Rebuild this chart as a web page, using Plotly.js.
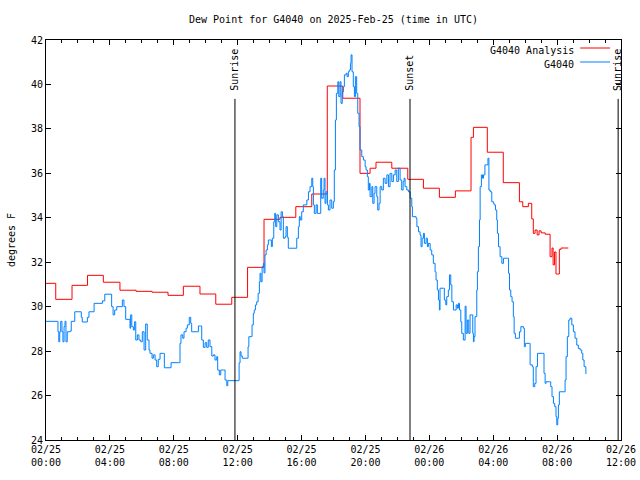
<!DOCTYPE html>
<html>
<head>
<meta charset="utf-8">
<script src="https://cdn.plot.ly/plotly-3.0.1.min.js"></script>
<style>html,body{margin:0;padding:0;background:#fff;}#chart{width:640px;height:480px;}</style>
</head>
<body>
<div id="chart"></div>
<script>
// Hours after 2025-02-25 00:00 UTC
const analysisHours = [0,0.61,1.63,2.60,3.59,4.63,5.64,6.64,7.64,8.60,9.64,10.63,11.63,12.62,13.65,14.65,15.64,16.64,17.61,18.58,19.66,20.29,20.66,21.65,22.65,23.63,24.63,25.63,26.61,26.76,27.63,28.63,29.64,29.85,30.20,30.41,30.51,30.62,30.75,30.87,31.0,31.25,31.56,31.68,31.75,31.84,31.93,32.03,32.14,32.25,32.70];
const analysisValues = [31.05,30.33,30.96,31.41,31.10,30.74,30.69,30.65,30.51,30.92,30.57,30.11,30.42,31.77,33.93,34.02,34.50,35.07,39.93,39.38,36.00,36.23,36.50,36.23,35.73,35.33,34.92,35.21,37.62,38.07,36.95,35.58,34.72,34.50,34.65,33.95,33.30,33.45,33.23,33.41,33.32,33.26,32.25,32.64,31.88,32.46,31.47,31.47,32.58,32.64,32.64];

const obsHours = [
0,0.71,0.75,0.80,0.86,0.92,1.00,1.06,1.13,1.19,1.25,1.33,1.50,1.58,1.80,2.21,2.27,2.59,2.69,3.01,
3.53,3.68,4.11,4.20,4.30,4.43,4.78,4.88,4.99,5.26,5.30,5.37,5.47,5.55,5.62,5.72,5.82,5.93,6.03,6.14,
6.24,6.34,6.45,6.51,6.64,6.72,6.83,6.93,7.03,7.14,7.35,7.41,7.77,7.83,8.28,8.39,8.45,8.56,8.64,8.77,
8.85,8.97,9.06,9.12,9.44,9.54,9.69,9.75,9.85,9.96,10.06,10.16,10.27,10.38,10.48,10.58,10.69,10.75,10.85,10.94,
11.10,11.21,11.32,11.38,12.04,12.09,12.15,12.21,12.29,12.61,12.65,12.70,12.86,12.90,12.98,13.04,13.11,13.19,13.28,13.36,
13.40,13.46,13.53,13.61,13.65,13.71,13.78,13.86,13.92,14.03,14.11,14.17,14.26,14.32,14.38,14.45,14.55,14.65,14.72,14.80,
14.86,14.97,15.03,15.11,15.17,15.59,15.70,15.80,15.86,15.92,16.01,16.11,16.33,16.43,16.53,16.64,16.70,16.74,16.80,16.91,
16.99,17.16,17.20,17.26,17.36,17.41,17.47,17.53,17.62,17.68,17.78,17.89,17.99,18.05,18.12,18.18,18.27,18.33,18.41,18.47,
18.55,18.62,18.68,18.79,18.85,18.93,18.99,19.06,19.10,19.16,19.24,19.31,19.37,19.45,19.52,19.60,19.66,19.77,19.87,19.98,
20.04,20.12,20.18,20.25,20.29,20.40,20.46,20.54,20.60,20.71,20.77,20.85,20.92,21.02,21.12,21.23,21.34,21.44,21.54,21.65,
21.75,21.86,21.96,22.06,22.17,22.27,22.36,22.42,22.48,22.59,22.69,22.80,22.90,22.94,23.17,23.22,23.32,23.42,23.48,23.55,
23.63,23.69,23.80,23.88,23.94,24.05,24.15,24.25,24.36,24.42,24.50,24.57,24.63,24.67,24.88,24.94,25.03,25.09,25.19,25.26,
25.34,25.41,25.51,25.68,25.76,25.82,25.89,25.97,26.03,26.13,26.24,26.30,26.38,26.47,26.55,26.66,26.72,26.76,26.80,26.86,
26.97,27.01,27.07,27.14,27.18,27.26,27.33,27.39,27.48,27.60,27.67,27.73,27.81,27.91,28.02,28.06,28.14,28.22,28.26,28.33,
28.43,28.54,28.64,28.89,28.96,29.02,29.10,29.18,29.26,29.31,29.39,29.56,29.64,29.73,29.89,29.95,30.01,30.26,30.31,30.45,
30.51,30.60,30.68,30.77,31.10,31.18,31.25,31.31,31.52,31.60,31.68,31.77,31.85,31.93,31.98,32.04,32.08,32.14,32.44,32.50,
32.56,32.64,32.73,32.81,32.92,33.02,33.12,33.23,33.33,33.44,33.54,33.61,33.69,33.80];
const obsValues = [
29.34,29.34,28.87,28.42,28.87,29.34,28.87,28.42,29.10,29.34,28.42,28.87,28.90,29.34,29.77,29.52,29.31,29.52,29.77,30.15,
30.26,30.56,30.00,29.63,29.85,30.00,30.30,30.00,29.43,29.03,29.63,29.10,28.95,29.32,28.50,28.73,28.50,28.42,28.87,28.05,
29.22,28.50,28.05,27.90,27.68,27.83,27.60,27.30,27.63,27.90,27.90,27.25,27.25,27.48,27.48,28.35,28.73,28.58,28.87,29.03,
29.18,29.52,29.25,28.87,28.87,29.13,29.13,28.50,28.17,28.38,28.17,28.50,28.20,27.78,27.83,27.60,27.75,27.15,26.93,27.15,
27.15,26.70,26.44,26.67,26.67,27.47,27.97,27.78,27.68,27.68,28.20,28.65,28.65,29.18,29.70,29.85,30.08,30.22,30.60,31.12,
31.50,31.12,31.80,31.95,31.52,32.33,32.55,32.78,33.00,33.00,32.70,33.08,33.82,34.20,33.60,34.13,33.82,33.45,34.27,34.05,
33.08,33.15,33.60,33.12,32.63,32.63,33.08,33.60,34.05,33.90,34.27,34.58,34.80,35.17,35.40,35.78,35.40,34.58,34.20,34.58,
34.20,34.20,35.78,34.88,35.25,35.78,34.65,35.17,34.58,34.35,34.80,34.43,34.72,36.15,38.40,39.60,40.12,39.45,40.12,39.15,
39.67,39.90,40.43,40.50,40.35,40.57,40.65,40.95,41.33,40.57,39.90,39.45,40.35,39.60,38.70,38.10,37.05,36.75,36.60,36.30,
36.15,35.85,35.25,35.55,34.95,35.40,34.65,35.10,35.40,34.95,34.35,34.65,35.40,35.25,35.78,35.55,35.93,35.40,36.00,35.63,
35.93,36.15,35.63,36.23,35.70,35.25,35.63,35.78,35.40,35.25,35.17,34.88,34.50,34.05,33.98,33.60,33.37,33.22,32.70,33.08,
33.30,32.85,33.08,32.70,32.85,32.55,32.33,31.95,31.57,31.20,30.75,30.30,29.85,30.83,30.83,30.30,30.08,30.45,30.75,31.43,
30.98,30.22,29.85,30.08,29.93,30.15,29.85,29.32,28.80,28.50,30.02,28.80,29.40,28.80,29.63,29.63,28.80,28.42,28.65,29.55,
30.75,31.57,32.70,33.90,35.40,35.93,35.78,35.93,36.38,36.38,36.68,35.25,35.17,34.72,34.65,34.58,34.35,33.90,33.30,32.70,
32.25,31.95,32.18,32.18,31.50,30.75,30.45,30.22,29.55,28.80,28.58,28.58,28.87,29.10,29.03,28.20,28.35,28.35,27.38,27.30,
26.40,26.55,27.30,27.90,27.90,27.00,26.55,26.62,26.62,26.40,25.95,25.65,25.50,25.05,24.68,24.98,25.58,26.17,26.17,26.70,
27.75,28.65,29.40,29.48,29.18,28.87,28.58,28.27,28.12,28.05,27.90,27.60,27.30,26.97];

const eventHours = [11.83, 22.79, 35.82];
const eventLabels = ['Sunrise', 'Sunset', 'Sunrise'];
const eventLineTop = 39.35;

const seriesNames = ['G4040 Analysis', 'G4040'];
const seriesColors = ['#ff0000', '#0080ff'];
const titleText = 'Dew Point for G4040 on 2025-Feb-25 (time in UTC)';
const yTitle = 'degrees F';

const start = Date.UTC(2025, 1, 25);
function toDate(h) {
  return new Date(start + Math.round(h * 3600000)).toISOString().slice(0, 19).replace('T', ' ');
}

const font = {family: 'DejaVu Sans Mono, Liberation Mono, monospace', size: 10, color: '#000'};

const traces = [
  {x: analysisHours.map(toDate), y: analysisValues, mode: 'lines', name: seriesNames[0],
   line: {color: seriesColors[0], width: 1, shape: 'hv'}, showlegend: false, hoverinfo: 'skip'},
  {x: obsHours.map(toDate), y: obsValues, mode: 'lines', name: seriesNames[1],
   line: {color: seriesColors[1], width: 1, shape: 'hv'}, showlegend: false, hoverinfo: 'skip'}
];

const shapes = [];
const annotations = [];
eventHours.forEach((h, i) => {
  shapes.push({type: 'line', xref: 'x', yref: 'y', x0: toDate(h), x1: toDate(h), y0: 24, y1: eventLineTop,
               line: {color: '#000', width: 1}});
  annotations.push({xref: 'x', yref: 'paper', x: toDate(h), y: 0.868, xanchor: 'center', yanchor: 'bottom',
                    text: eventLabels[i], textangle: -90, showarrow: false, font: font});
});

// gnuplot-style legend (text left of sample line)
const legendLineY = [0.98, 0.945];
const legendTextY = [0.974, 0.94];
seriesNames.forEach((n, i) => {
  annotations.push({xref: 'paper', yref: 'paper', x: 0.921, y: legendTextY[i], xanchor: 'right', yanchor: 'middle',
                    text: n, showarrow: false, font: font});
  shapes.push({type: 'line', xref: 'paper', yref: 'paper', x0: 0.929, x1: 0.981, y0: legendLineY[i], y1: legendLineY[i],
               line: {color: seriesColors[i], width: 1}});
});

const layout = {
  width: 640, height: 480,
  margin: {l: 46, r: 19, t: 40, b: 40},
  paper_bgcolor: '#fff', plot_bgcolor: '#fff',
  font: font,
  title: {text: titleText, x: 0.5, xref: 'paper', xanchor: 'center', y: 1 - 19 / 480, yref: 'container', yanchor: 'middle', font: font},
  xaxis: {
    type: 'date', range: [toDate(0), toDate(36)],
    tick0: toDate(0), dtick: 4 * 3600000, tickformat: '%m/%d<br>%H:%M',
    ticks: 'inside', ticklen: 5, tickcolor: '#000', showline: true, linecolor: '#000', linewidth: 1,
    mirror: 'ticks', showgrid: false, zeroline: false, tickfont: font,
    minor: {dtick: 3600000, ticks: 'inside', ticklen: 3, tickcolor: '#000', showgrid: false}
  },
  yaxis: {
    range: [24, 42], dtick: 2, tick0: 24,
    ticks: 'inside', ticklen: 5, tickcolor: '#000', showline: true, linecolor: '#000', linewidth: 1,
    mirror: 'ticks', showgrid: false, zeroline: false, tickfont: font,
    title: {text: yTitle, font: font, standoff: 13}
  },
  shapes: shapes,
  annotations: annotations,
  showlegend: false
};

Plotly.newPlot('chart', traces, layout, {staticPlot: true, displayModeBar: false});
</script>
</body>
</html>
